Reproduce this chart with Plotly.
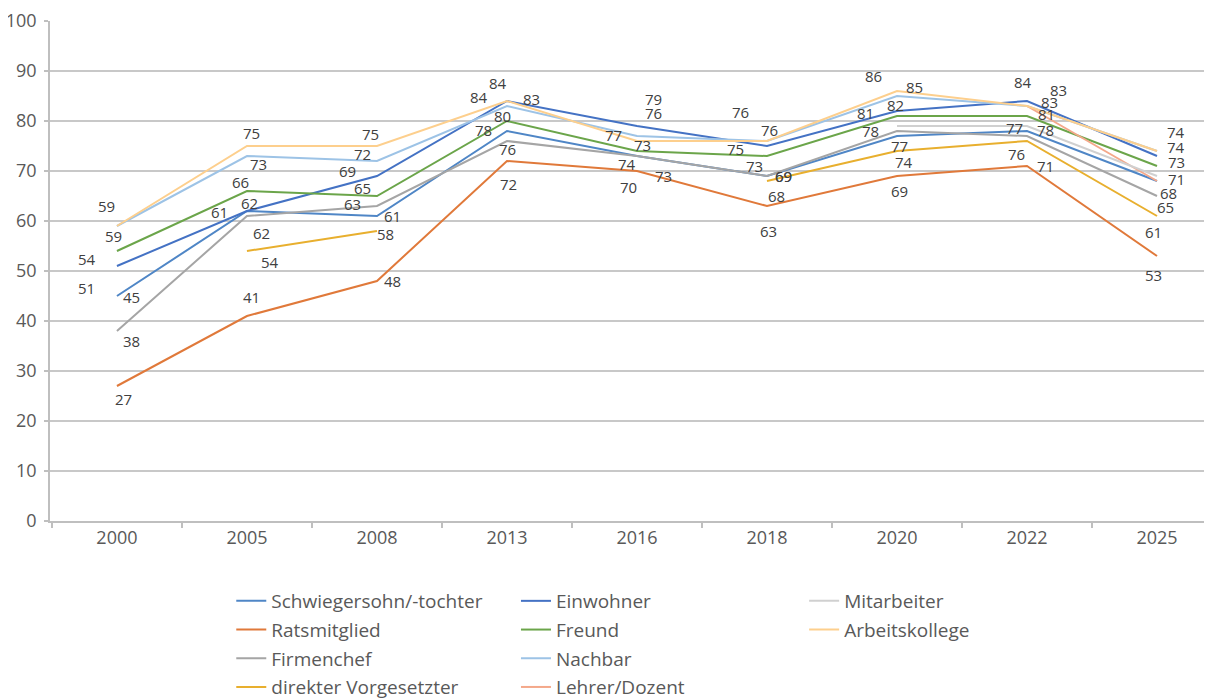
import plotly.graph_objects as go

# ---------------- data ----------------
years = ["2000", "2005", "2008", "2013", "2016", "2018", "2020", "2022", "2025"]

schwiegersohn = [45, 62, 61, 78, 73, 69, 77, 78, 68]
ratsmitglied = [27, 41, 48, 72, 70, 63, 69, 71, 53]
firmenchef = [38, 61, 63, 76, 73, 69, 78, 77, 65]
vorgesetzter = [None, 54, 58, None, None, 68, 74, 76, 61]
einwohner = [51, 62, 69, 84, 79, 75, 82, 84, 73]
freund = [54, 66, 65, 80, 74, 73, 81, 81, 71]
nachbar = [59, 73, 72, 83, 77, 76, 85, 83, 74]
lehrer = [None, None, None, None, None, None, None, 83, 68]
mitarbeiter = [None, None, None, None, None, None, 79, 79, 69]
arbeitskollege = [59, 75, 75, 84, 76, 76, 86, 83, 74]

series_names = ["Schwiegersohn/-tochter", "Ratsmitglied", "Firmenchef", "direkter Vorgesetzter",
                "Einwohner", "Freund", "Nachbar", "Lehrer/Dozent", "Mitarbeiter", "Arbeitskollege"]
series_values = [schwiegersohn, ratsmitglied, firmenchef, vorgesetzter,
                 einwohner, freund, nachbar, lehrer, mitarbeiter, arbeitskollege]

# ---------------- styles ----------------
colors = ["#4F86C6", "#E0793A", "#A5A5A5", "#E8AF2E",
          "#4472C4", "#6BA54A", "#9DC3E6", "#F4A88A", "#D0D0D0", "#FDCF8D"]
legend_ids = ["legend", "legend", "legend", "legend",
              "legend2", "legend2", "legend2", "legend2", "legend3", "legend3"]
show_labels = [True, True, True, True, True, True, True, False, False, True]

# label pixel offsets (dx right, dy down) per point
label_offsets = {
    "Schwiegersohn/-tochter": [(15, 1), (15, 22), (16, 0), (-23, -1), (6, -11), (17, 0), (3, 10), (18, -1), (11, 12)],
    "Ratsmitglied": [(7, 13), (5, -19), (16, 0), (2, 23), (-8, 16), (2, 25), (3, 15), (18, 0), (-4, 19)],
    "Firmenchef": [(15, 10), (-27, -4), (-24, -2), (1, 8), (27, 20), (17, 0), (-26, 0), (-13, -8), (8, 11)],
    "direkter Vorgesetzter": [(0, 0), (23, 11), (9, 3), (0, 0), (0, 0), (10, 15), (7, 11), (-11, 13), (-4, 16)],
    "Einwohner": [(-30, 22), (3, -8), (-29, -5), (-9, -18), (17, -27), (-31, 3), (-1, -6), (-4, -19), (19, 6)],
    "Freund": [(-30, 8), (-6, -9), (-14, -8), (-4, -5), (-10, 13), (-12, 10), (-31, -3), (19, -2), (19, 13)],
    "Nachbar": [(-3, 10), (12, 8), (-14, -7), (25, -7), (-23, -1), (-26, -29), (18, -9), (22, -4), (19, -4)],
    "Arbeitskollege": [(-10, -20), (5, -13), (-6, -12), (-28, -4), (17, -28), (3, -11), (-23, -15), (31, -16), (19, -19)],
}

FONT = "Open Sans"

fig = go.Figure()
annotations = []
for name, vals, col, lg, show in zip(series_names, series_values, colors, legend_ids, show_labels):
    fig.add_trace(go.Scatter(
        x=years, y=vals, mode="lines", name=name,
        line=dict(color=col, width=2),
        legend=lg, legendgroup=name,
        connectgaps=False,
        hoverinfo="x+y+name",
    ))
    if show:
        for idx, (v, (dx, dy)) in enumerate(zip(vals, label_offsets[name])):
            if v is None:
                continue
            annotations.append(dict(
                x=idx, y=v, xref="x", yref="y", text=str(v), showarrow=False,
                xshift=dx, yshift=-dy,
                font=dict(family=FONT, size=15, color="#404040"),
            ))

legend_common = dict(
    orientation="v", traceorder="grouped", tracegroupgap=1,
    font=dict(family=FONT, size=19, color="#595959"),
    bgcolor="rgba(0,0,0,0)", borderwidth=0,
    xanchor="left", yanchor="top", y=-0.122,
)

# the page body adds an 8 px margin, so the figure is sized 8 px smaller
fig.update_layout(
    width=1204, height=690,
    margin=dict(l=42, r=0, t=13, b=177, autoexpand=False),
    paper_bgcolor="white", plot_bgcolor="white",
    font=dict(family=FONT, color="#595959"),
    showlegend=True,
    legend=dict(legend_common, x=0.156),
    legend2=dict(legend_common, x=0.401),
    legend3=dict(legend_common, x=0.649),
    annotations=annotations,
    xaxis=dict(
        type="category", categoryorder="array", categoryarray=years,
        range=[-0.515, 8.423],
        showgrid=False, showline=True, linecolor="#BFBFBF", linewidth=1.5,
        ticks="outside", tickson="boundaries", ticklen=5, tickcolor="#BFBFBF", tickwidth=1.5,
        tickfont=dict(family=FONT, size=18, color="#595959"),
        zeroline=False,
    ),
    yaxis=dict(
        range=[0, 100], dtick=10, tick0=0,
        showgrid=True, gridcolor="#C8C8C8", gridwidth=1.5,
        showline=True, linecolor="#BFBFBF", linewidth=1.5,
        ticks="outside", ticklen=4, tickcolor="#BFBFBF", tickwidth=1.5,
        tickfont=dict(family=FONT, size=18, color="#595959"),
        ticklabelstandoff=4,
        zeroline=False,
    ),
)

fig.write_html("out.html")
